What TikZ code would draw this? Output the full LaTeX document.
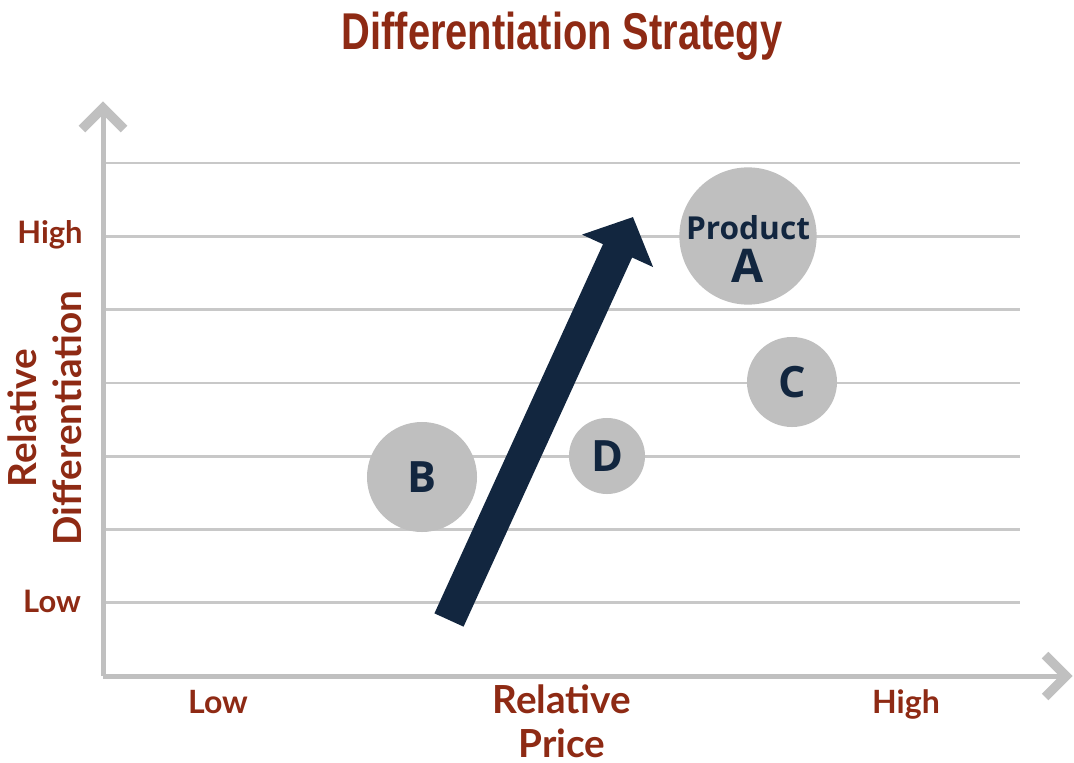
\documentclass[tikz,border=0pt]{standalone}
\usepackage{fontspec}
\setmainfont{Lato}
\newfontfamily\titlefont[FakeStretch=0.77]{Liberation Sans}
\newfontfamily\bubblefont{Open Sans}
\usetikzlibrary{arrows.meta,positioning}

\definecolor{titlered}{RGB}{142,42,20}
\definecolor{navy}{RGB}{18,38,63}
\definecolor{bubblegray}{RGB}{191,191,191}
\definecolor{linegray}{RGB}{200,200,200}
\definecolor{axisgray}{RGB}{192,192,192}

\begin{document}
\begin{tikzpicture}[x=0.025cm, y=-0.025cm,
        axis/.style={line width=0.125cm, color=axisgray},
        chevron/.style={line width=0.23cm, color=axisgray, miter limit=4},
        gridline/.style={line width=0.07cm, color=linegray},
        scalelabel/.style={inner sep=0pt, text=titlered, font=\bfseries\fontsize{22}{26}\selectfont},
        pricelabel/.style={inner sep=0pt, text=titlered, font=\bfseries\fontsize{22.8}{27}\selectfont},
        axistitle/.style={inner sep=0pt, text=titlered, align=center},
        bubble/.style={circle, fill=bubblegray, inner sep=0pt, text=navy, font=\bubblefont\bfseries\fontsize{30.7}{36}\selectfont},
        trend/.style={line width=0.8cm, color=navy, -{Triangle[width=1.9cm, length=0.93cm]}}
    ]
    \useasboundingbox (0,0) rectangle (1074,763);

    % Title
    \node[anchor=base, inner sep=0pt, text=titlered, font=\titlefont\bfseries\fontsize{36.8}{44}\selectfont] (title) at (562,50) {Differentiation Strategy};

    % Grid lines
    \foreach \i in {0,...,6}
        \draw[gridline] (103,163+73.3*\i) -- (1020,163+73.3*\i);

    % Axes
    \coordinate (origin) at (103,676);
    \coordinate (ytop) at (103,108);
    \coordinate (xend) at (1066,676);
    \draw[axis] (origin) -- (ytop);
    \draw[axis] (origin) -- (xend);
    \draw[chevron] (82,129) -- (ytop) -- (124,129);
    \draw[chevron] (1045,655) -- (xend) -- (1045,697);

    % Axis labels
    \node[scalelabel, anchor=base] (yhigh) at (50,243) {High};
    \node[scalelabel, anchor=base] (ylow) at (52,612) {Low};
    \node[axistitle, rotate=90, font=\bfseries\fontsize{27.5}{32}\selectfont] (ytitle) at (45,418) {Relative\\Differentiation};

    \node[pricelabel, anchor=base] (xlow) at (218,713) {Low};
    \node[pricelabel, anchor=base] (xhigh) at (906,713) {High};
    \node[axistitle, anchor=base, font=\bfseries\fontsize{27.5}{31}\selectfont] (xtitle) at (562,757) {Relative\\Price};

    % Nodes
    \node[bubble, minimum size=3.43cm] (prodA) at (748,236) {};
    \node[inner sep=0pt, text=navy, align=center, anchor=base, font=\bubblefont\bfseries\fontsize{22.5}{30}\selectfont] (prodA-text) at (748,282)
        {Product\\{\fontsize{33}{30}\selectfont A}};
    \node[bubble, minimum size=2.75cm] (prodB) at (422,477) {B};
    \node[bubble, minimum size=2.25cm] (prodC) at (792,382) {C};
    \node[bubble, minimum size=1.9cm] (prodD) at (607,456) {D};

    % Trend arrow
    \coordinate (trendtail) at (449,620);
    \coordinate (trendtip) at (633,217);
    \draw[trend] (trendtail) -- (trendtip);

\end{tikzpicture}
\end{document}
